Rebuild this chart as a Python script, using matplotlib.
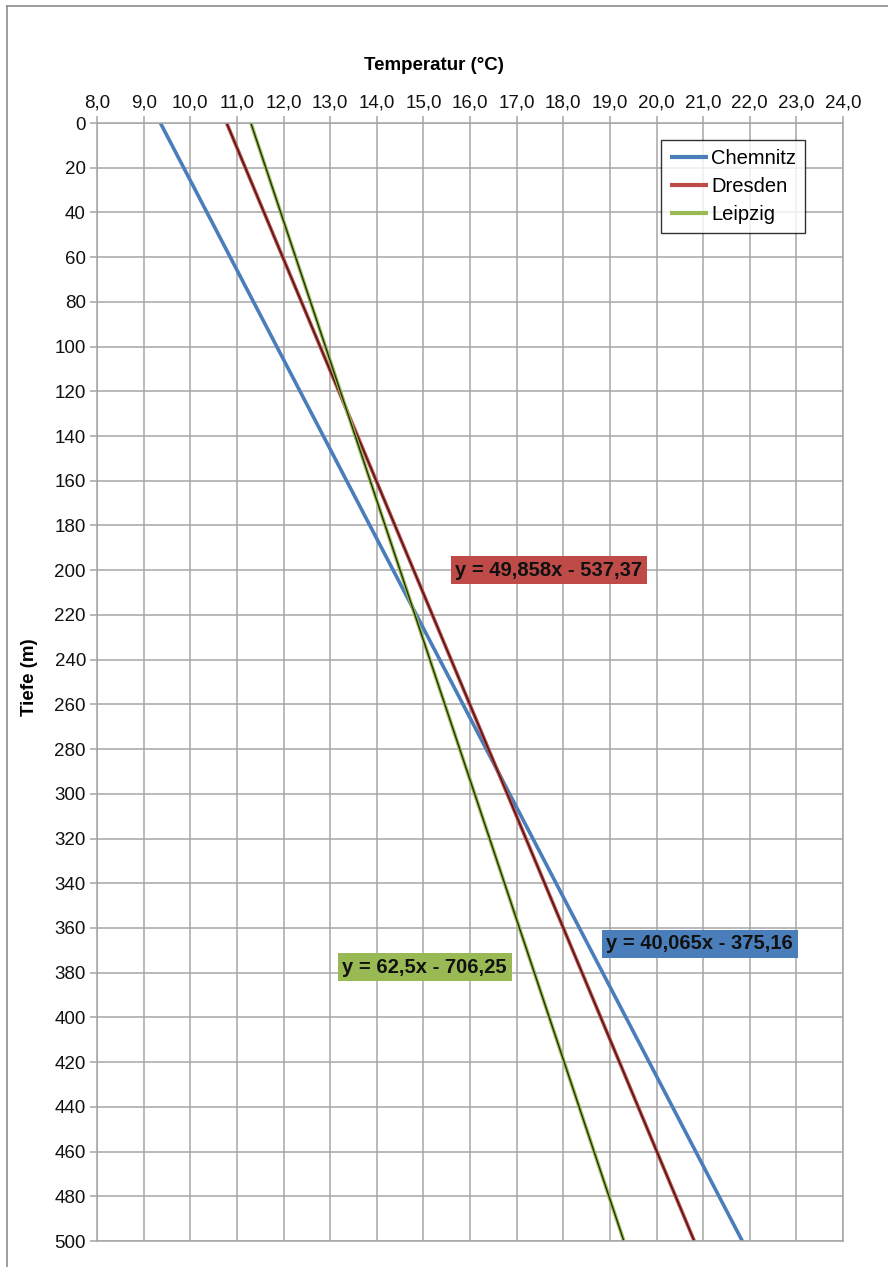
import matplotlib.pyplot as plt
from matplotlib.lines import Line2D

plt.rcParams['font.family'] = ['Liberation Sans', 'DejaVu Sans']

# Werte (Endpunkte der Trendlinien)
depth = [0, 500]
chemnitz = [9.36, 21.84]
dresden = [10.78, 20.81]
leipzig = [11.30, 19.30]

labels = ["Chemnitz", "Dresden", "Leipzig"]
equations = ["y = 40,065x - 375,16", "y = 49,858x - 537,37", "y = 62,5x - 706,25"]
eq_pos = [(20.93, 367), (17.69, 200), (15.03, 377.5)]

x_ticks = list(range(8, 25))
y_ticks = list(range(0, 501, 20))

blue = "#4a7ebb"
red = "#be4b48"
green = "#98b954"
grid_c = "#a6a6a6"

fig = plt.figure(figsize=(8.88, 12.67), dpi=100)
ax = fig.add_axes([97 / 888, 26 / 1267, 746 / 888, 1118 / 1267])

ax.plot(chemnitz, depth, color=blue, lw=2.6, label=labels[0], solid_capstyle="butt")
ax.plot(dresden, depth, color=red, lw=2.6, label=labels[1], solid_capstyle="butt")
ax.plot(dresden, depth, color="#3c1414", lw=0.9, solid_capstyle="butt")
ax.plot(leipzig, depth, color=green, lw=2.6, label=labels[2], solid_capstyle="butt")
ax.plot(leipzig, depth, color="#1e2a08", lw=0.9, solid_capstyle="butt")

ax.set_xlim(8, 24)
ax.set_ylim(500, 0)
ax.set_xticks(x_ticks)
ax.set_xticklabels([f"{v},0" for v in x_ticks])
ax.set_yticks(y_ticks)
ax.xaxis.tick_top()
ax.xaxis.set_label_position("top")
ax.tick_params(axis="both", labelsize=13.5, color=grid_c, length=5, width=1.1,
               labelcolor="#111111", pad=3)
ax.grid(True, color=grid_c, lw=1.1)
for side in ax.spines:
    ax.spines[side].set_color(grid_c)
    ax.spines[side].set_linewidth(1.1)

ax.set_xlabel("Temperatur (°C)", fontsize=13.5, fontweight="bold", labelpad=18)
ax.xaxis.label.set_x(0.452)
ax.set_ylabel("Tiefe (m)", fontsize=13.5, fontweight="bold", labelpad=12)
ax.yaxis.label.set_y(0.504)

box_cols = [blue, red, green]
for eq, (ex, ey), bc in zip(equations, eq_pos, box_cols):
    ax.text(ex, ey, eq, fontsize=14.5, fontweight="bold", ha="center", va="center",
            color="#111111",
            bbox=dict(boxstyle="square,pad=0.22", fc=bc, ec="none"))

leg = ax.legend(loc="upper right", bbox_to_anchor=(0.949, 0.985), fontsize=14.5,
                frameon=True, fancybox=False, handlelength=1.9, handletextpad=0.15,
                borderpad=0.45, labelspacing=0.45, borderaxespad=0)
leg.get_frame().set_edgecolor("black")
leg.get_frame().set_linewidth(1.0)
for line in leg.get_lines():
    line.set_linewidth(3)

# Rahmen des Diagrammbereichs
fig.add_artist(Line2D([7 / 888, 7 / 888], [0, 1 - 6 / 1267], color="#8c8c8c", lw=1.2))
fig.add_artist(Line2D([7 / 888, 1], [1 - 6 / 1267, 1 - 6 / 1267], color="#8c8c8c", lw=1.2))

fig.savefig("out.png", dpi=100)
